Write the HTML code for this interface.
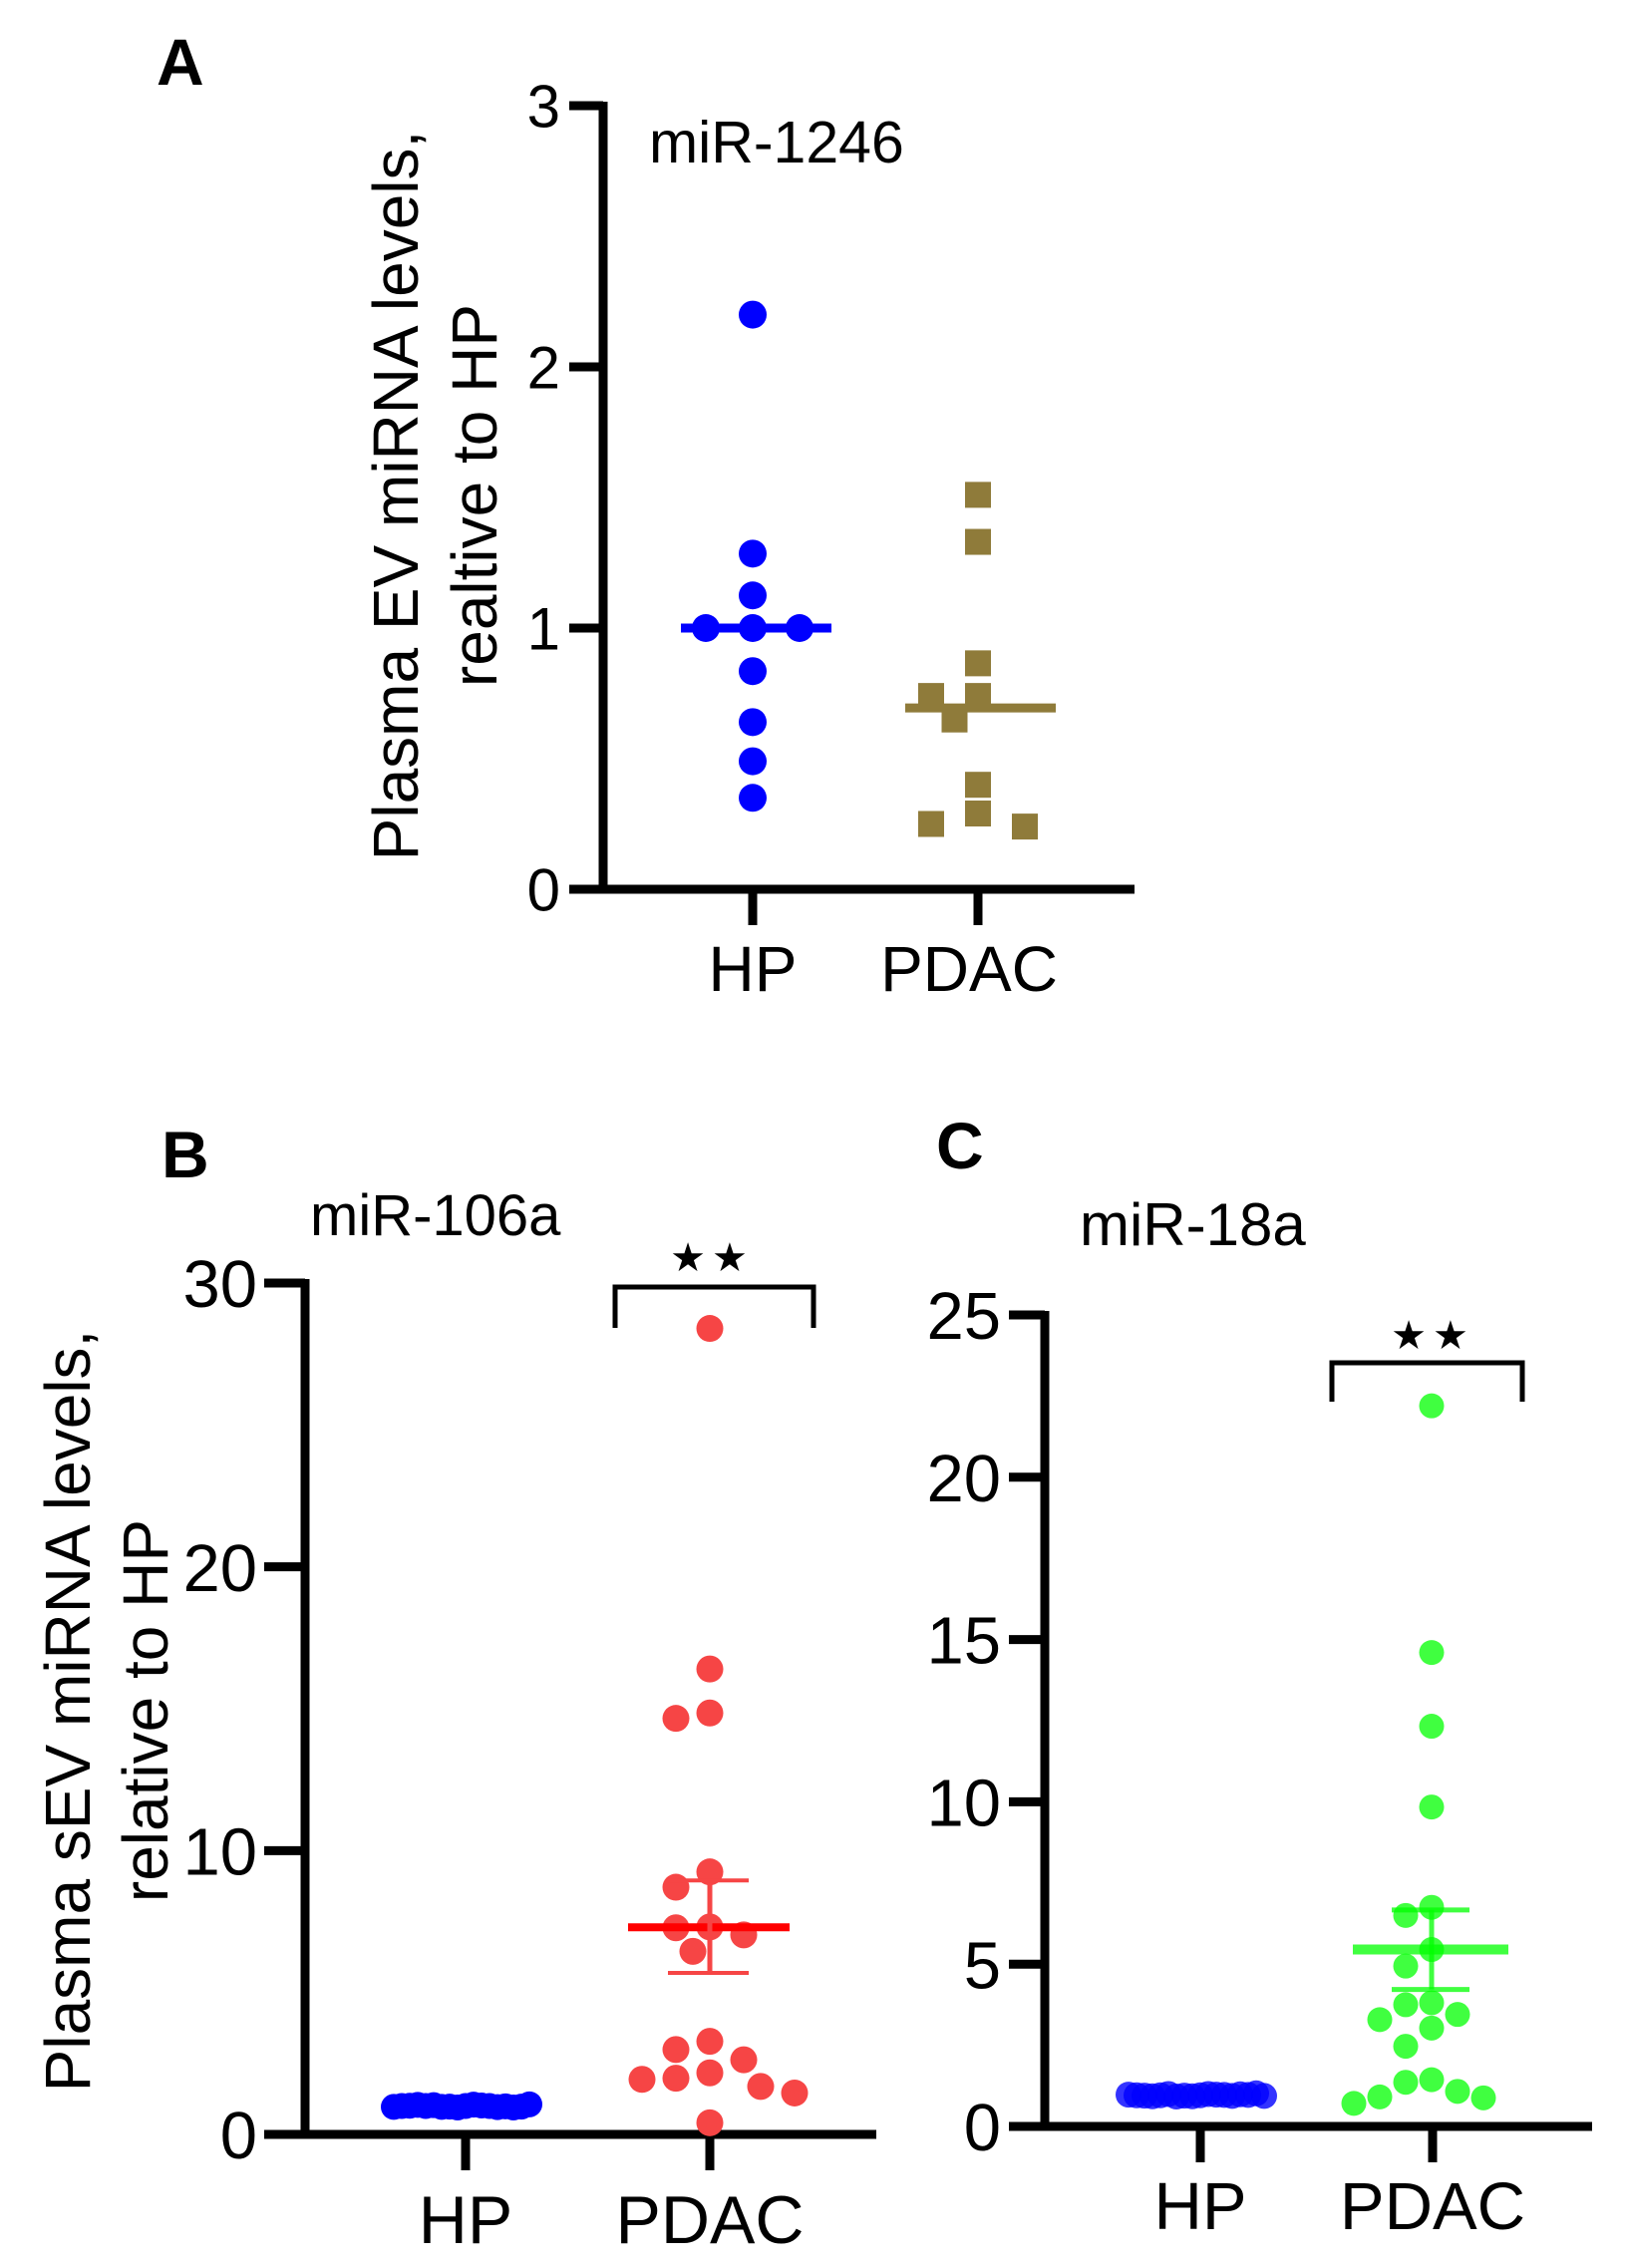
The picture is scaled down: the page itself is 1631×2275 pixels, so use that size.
<!DOCTYPE html>
<html><head><meta charset="utf-8"><style>
html,body{margin:0;padding:0;background:#fff}
svg{display:block}
text{font-family:"Liberation Sans",sans-serif;fill:#000}
</style></head><body>
<svg id="fig" width="1631" height="2275" viewBox="0 0 1631 2275" xmlns="http://www.w3.org/2000/svg"></svg>
<script>
// ---------- Data ----------
const groupsA = ["HP","PDAC"];
const ticksA = [0,1,2,3];
const hpA = [2.2,1.285,1.125,1.0,1.0,1.0,0.835,0.64,0.49,0.35];
const pdacA = [1.51,1.33,0.865,0.74,0.74,0.65,0.40,0.29,0.25,0.24];
const medianA = [1.0,0.694];

const groupsB = ["HP","PDAC"];
const ticksB = [0,10,20,30];
const hpB = [1.0,0.95,1.05,0.98,1.02,0.97,1.0,1.03,0.96,1.0,0.99,1.04,0.95,1.01,0.98,1.0,1.06,0.97];
const pdacB = [28.4,16.4,14.85,14.66,9.25,8.71,7.31,7.28,7.03,6.45,3.28,2.99,2.63,2.17,1.98,1.94,1.69,1.46,0.41];
const meanB = 7.3, semHiB = 8.95, semLoB = 5.69;

const groupsC = ["HP","PDAC"];
const ticksC = [0,5,10,15,20,25];
const hpC = [0.96,0.93,1.0,0.95,0.98,0.92,0.97,1.0,0.94,0.96,0.99,0.93,0.97,0.95,1.02,0.96,0.94,0.98];
const pdacC = [22.2,14.6,12.33,9.84,6.75,6.5,5.45,4.94,3.81,3.75,3.45,3.29,3.03,2.47,1.44,1.36,1.08,0.91,0.88,0.71];
const meanC = 5.45, semHiC = 6.67, semLoC = 4.22;

// ---------- Helpers ----------
const NS="http://www.w3.org/2000/svg";
const svg=document.getElementById('fig');
function mk(tag,attrs,parent){const e=document.createElementNS(NS,tag);for(const k in attrs)e.setAttribute(k,attrs[k]);(parent||svg).appendChild(e);return e;}
function txt(str,attrs,parent){const e=mk('text',attrs,parent);e.textContent=str;return e;}
function beeswarm(vals,cx,y,step,minD){
  const placed=[];
  vals.forEach(v=>{
    const py=y(v);
    for(let k=0;k<60;k++){
      const off=(k===0)?0:((k%2===1)?-1:1)*Math.ceil(k/2)*step;
      const px=cx+off;
      if(placed.every(p=>Math.hypot(p.x-px,p.y-py)>=minD)){placed.push({x:px,y:py,v:v});break;}
    }
  });
  return placed;
}
function axes(g,cfg){
  const y=v=>cfg.y0-(v-cfg.min)/(cfg.max-cfg.min)*(cfg.y0-cfg.yTop);
  const ya=mk('line',{x1:cfg.ax,y1:cfg.yTop-4,x2:cfg.ax,y2:cfg.y0+4,stroke:'#000','stroke-width':9},g);
  
  
  const xa=mk('line',{x1:cfg.xl,y1:cfg.y0,x2:cfg.xr,y2:cfg.y0,stroke:'#000','stroke-width':9},g);
  
  
  cfg.ticks.forEach(t=>{
    const tl=mk('line',{x1:cfg.xl,y1:y(t),x2:cfg.ax,y2:y(t),stroke:'#000','stroke-width':9},g);
    
    
    const lb=txt(String(t),{x:cfg.labR,y:y(t)+cfg.tickFs*0.36,'text-anchor':'end','font-size':cfg.tickFs},g);
    
    
  });
  cfg.groups.forEach((gname,i)=>{
    const x=cfg.gx[i];
    const tk=mk('line',{x1:x,y1:cfg.y0,x2:x,y2:cfg.y0+36,stroke:'#000','stroke-width':9},g);
    
    
    const lb=txt(gname,{x:x+(cfg.lx?cfg.lx[i]:0),y:cfg.xlabY,'text-anchor':'middle','font-size':cfg.xFs},g);
    
    
  });
  return y;
}
function dots(g,pts,r,fill,op,name){
  pts.forEach(p=>{
    const c=mk('circle',{cx:p.x,cy:p.y,r:r,fill:fill,'fill-opacity':op},g);
    
    
  });
}
function hline(g,x1,x2,yy,w,col,name){
  const l=mk('line',{x1:x1,y1:yy,x2:x2,y2:yy,stroke:col,'stroke-width':w},g);
  
  
}
function bracket(g,x1,x2,top,bot,sx,sy){
  const p=mk('path',{d:`M${x1},${bot}V${top}H${x2}V${bot}`,fill:'none',stroke:'#000','stroke-width':5},g);
  
  
  const s=txt('★★',{x:sx,y:sy,'text-anchor':'middle','font-size':40,'letter-spacing':6,'font-family':'DejaVu Sans, sans-serif'},g);
  
  
}
function ylabel(g,l1,l2,x1,x2,cy){
  const a=txt(l1,{x:0,y:0,'text-anchor':'middle','font-size':64,transform:`translate(${x1+22},${cy}) rotate(-90)`},g);
  
  
  const b=txt(l2,{x:0,y:0,'text-anchor':'middle','font-size':64,transform:`translate(${x2+22},${cy}) rotate(-90)`},g);
  
  
}

// ---------- Panel A ----------
const gA=mk('g',{});


const pl=txt('A',{x:157,y:85,'font-size':66,'font-weight':'bold'},gA);


const tA=txt('miR-1246',{x:651,y:163,'font-size':59},gA);


ylabel(gA,'Plasma EV miRNA levels,','realtive to HP',397,476,497);
const yA=axes(gA,{ax:605,yTop:106,y0:892,min:0,max:3,xl:571,xr:1138,ticks:ticksA,labR:562,tickFs:60,groups:groupsA,gx:[755,981],lx:[0,-9],xlabY:994,xFs:64});
dots(gA,beeswarm(hpA,755,yA,47,28),14,'#0000ff',1,'hp-point');
beeswarm(pdacA,981,yA,23.5,27).forEach(p=>{
  const r=mk('rect',{x:p.x-13,y:p.y-13,width:26,height:26,fill:'#8f7b3a'},gA);
  
  
});
hline(gA,683,834,yA(medianA[0]),9,'#0000ff','hp-median-line');
hline(gA,908,1059,yA(medianA[1]),9,'#8f7b3a','pdac-median-line');

// ---------- Panel B ----------
const gB=mk('g',{});


const plB=txt('B',{x:162,y:1181,'font-size':66,'font-weight':'bold'},gB);


const tB=txt('miR-106a',{x:311,y:1239,'font-size':58},gB);


ylabel(gB,'Plasma sEV miRNA levels,','relative to HP',68,146,1716);
const yB=axes(gB,{ax:306,yTop:1287,y0:2141,min:0,max:30,xl:265,xr:879,ticks:ticksB,labR:258,tickFs:67,groups:groupsB,gx:[467,712],xlabY:2250,xFs:68});
dots(gB,beeswarm(hpB,467,yB,8,8),13,'#0000ff',1,'hp-point');
dots(gB,beeswarm(pdacB,712,yB,17,28),13.5,'#f64545',1,'pdac-point');
hline(gB,630,792,yB(meanB),8,'#ff0000','pdac-mean-line');
const ebB=mk('line',{x1:712,y1:yB(semHiB),x2:712,y2:yB(semLoB),stroke:'#f64545','stroke-width':5},gB);


hline(gB,670,751,yB(semHiB),4,'#f64545','pdac-error-cap-high');
hline(gB,670,751,yB(semLoB),4,'#f64545','pdac-error-cap-low');
bracket(gB,617,816,1291,1332,714,1275);

// ---------- Panel C ----------
const gC=mk('g',{});


const plC=txt('C',{x:939,y:1172,'font-size':66,'font-weight':'bold'},gC);


const tC=txt('miR-18a',{x:1083,y:1249,'font-size':60},gC);


const yC=axes(gC,{ax:1048,yTop:1319,y0:2133,min:0,max:25,xl:1012,xr:1597,ticks:ticksC,labR:1004,tickFs:67,groups:groupsC,gx:[1204,1437],xlabY:2236,xFs:67});
dots(gC,beeswarm(hpC,1204,yC,8,8),13,'#0000ff',0.8,'hp-point');
dots(gC,beeswarm(pdacC,1436,yC,13,25),12.5,'#00ff00',0.75,'pdac-point');
hline(gC,1357,1513,yC(meanC),10,'rgba(0,255,0,0.75)','pdac-mean-line');
const ebC=mk('line',{x1:1436,y1:yC(semHiC),x2:1436,y2:yC(semLoC),stroke:'rgba(0,255,0,0.75)','stroke-width':5},gC);


hline(gC,1396,1474,yC(semHiC),5,'rgba(0,255,0,0.75)','pdac-error-cap-high');
hline(gC,1396,1474,yC(semLoC),5,'rgba(0,255,0,0.75)','pdac-error-cap-low');
bracket(gC,1336,1527,1367,1406,1437,1353);
</script>
</body></html>
